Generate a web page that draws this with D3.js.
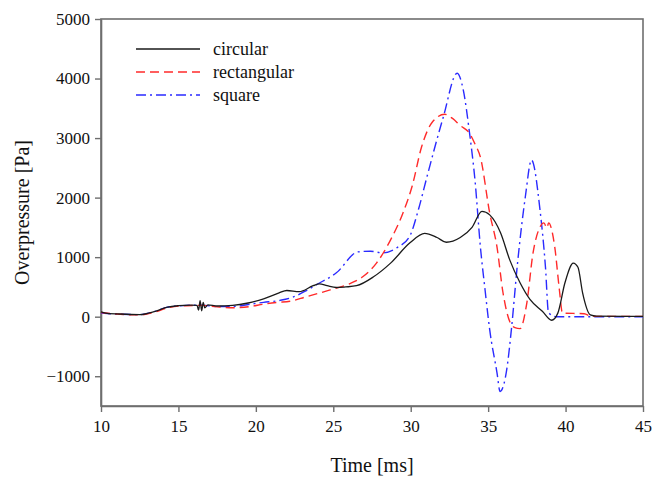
<!DOCTYPE html>
<html><head><meta charset="utf-8">
<script src="https://cdn.jsdelivr.net/npm/d3@7"></script>
<style>body{margin:0;background:#fff}svg{display:block} svg text{font-family:"Liberation Serif","Times New Roman",Times,"DejaVu Serif",serif !important;}</style>
</head><body>
<script>
const xTicks = [10, 15, 20, 25, 30, 35, 40, 45];
const yTicks = [-1000, 0, 1000, 2000, 3000, 4000, 5000];
const seriesNames = ["circular", "rectangular", "square"];

const circularT = [10, 10.5, 11.2, 12.5, 13.5, 14.3, 15, 15.8, 16.2, 16.3, 16.4, 16.5, 16.6, 16.7, 16.9, 17.5, 18.5, 19.5, 20.5, 21.5, 22.0, 22.8, 23.7, 24.1, 24.6, 25.2, 25.8, 26.5, 27.6, 28.7, 29.95, 30.9, 31.7, 32.3, 33.2, 33.96, 34.6, 35.1, 35.8, 36.4, 37.06, 37.7, 38.5, 39.1, 39.5, 39.96, 40.5, 40.8, 41.1, 41.6, 42, 45];
const circularP = [80, 50, 45, 35, 90, 160, 185, 195, 190, 110, 270, 100, 240, 150, 200, 180, 190, 230, 300, 400, 440, 420, 520, 550, 520, 490, 500, 520, 670, 900, 1240, 1400, 1330, 1250, 1330, 1500, 1770, 1710, 1410, 950, 570, 290, 90, -60, 60, 570, 900, 830, 400, 30, 10, 5];

const rectT = [10, 11, 12.5, 13.5, 14.3, 15.5, 16.5, 17.5, 18.5, 19.6, 20.5, 21.4, 22.2, 23.2, 24.8, 25.9, 26.9, 27.8, 28.7, 29.5, 30.1, 30.7, 31.4, 32.2, 32.7, 33.2, 33.8, 34.15, 34.5, 35.1, 35.57, 35.96, 36.4, 36.73, 37.06, 37.5, 37.9, 38.35, 38.6, 38.8, 38.9, 39.3, 39.6, 39.8, 41.2, 41.7, 45];
const rectP = [70, 45, 30, 80, 150, 185, 190, 165, 150, 170, 210, 240, 260, 330, 450, 536, 670, 904, 1290, 1742, 2200, 2850, 3270, 3400, 3330, 3210, 3080, 2900, 2680, 1742, 1172, 402, -84, -184, -200, 234, 1072, 1507, 1575, 1490, 1575, 1172, 452, 60, 50, 5, 5];

const squareT = [10, 11, 12.5, 13.5, 14.3, 15.5, 16.5, 17.5, 18.5, 19.6, 20.5, 21.56, 22.4, 23.2, 23.9, 25.2, 26.6, 27.4, 28.2, 29.1, 29.95, 30.5, 31.05, 32.1, 33.0, 33.4, 33.8, 34.15, 34.5, 34.8, 35.1, 35.57, 35.77, 36.2, 36.5, 36.9, 37.4, 37.8, 38.35, 38.7, 38.9, 39.4, 45];
const squareP = [60, 45, 35, 90, 160, 190, 195, 170, 170, 210, 240, 275, 330, 430, 536, 737, 1089, 1100, 1072, 1156, 1360, 1800, 2350, 3350, 4090, 3800, 3082, 2295, 1172, 452, -218, -938, -1256, -888, -218, 904, 2010, 2630, 1792, 838, 67, 0, 0];

const W = 659, H = 478;
const m = {left: 101, right: 16, top: 19, bottom: 72};
const svg = d3.select("body").append("svg").attr("width", W).attr("height", H);
const x = d3.scaleLinear().domain([10, 45]).range([m.left, W - m.right]);
const y = d3.scaleLinear().domain([-1500, 5000]).range([H - m.bottom, m.top]);
const font = "Liberation Serif, Times New Roman, Times, DejaVu Serif, serif";
const axisColor = "#6e6e6e";

svg.append("rect").attr("x", x(10)).attr("y", y(5000))
  .attr("width", x(45) - x(10)).attr("height", y(-1500) - y(5000))
  .attr("fill", "none").attr("stroke", axisColor).attr("stroke-width", 1.6);

const xAxis = svg.append("g").attr("transform", `translate(0,${y(-1500)})`)
  .call(d3.axisBottom(x).tickValues(xTicks).tickSize(6).tickSizeOuter(0).tickPadding(8));
const yAxis = svg.append("g").attr("transform", `translate(${x(10)},0)`)
  .call(d3.axisLeft(y).tickValues(yTicks).tickSize(6).tickSizeOuter(0).tickPadding(5).tickFormat(d3.format("d")));
[xAxis, yAxis].forEach(g => {
  g.attr("font-family", font).attr("font-size", 17);
  g.select(".domain").attr("stroke", axisColor).attr("stroke-width", 1.6);
  g.selectAll(".tick line").attr("stroke", axisColor).attr("stroke-width", 1.4);
  g.selectAll(".tick text").attr("fill", "#111");
});

const series = [
  {name: seriesNames[0], t: circularT, p: circularP, color: "#1a1a1a", dash: null, w: 1.3},
  {name: seriesNames[1], t: rectT, p: rectP, color: "#ff2a2a", dash: "9,5", w: 1.4},
  {name: seriesNames[2], t: squareT, p: squareP, color: "#2a2aff", dash: "10,4,2,4", w: 1.4}
];
const line = d3.line().x(d => x(d[0])).y(d => y(d[1])).curve(d3.curveMonotoneX);
const plotG = svg.append("g");
[series[2], series[1], series[0]].forEach(s => {
  const pts = s.t.map((t, i) => [t, s.p[i]]);
  plotG.append("path").datum(pts).attr("d", line)
    .attr("fill", "none").attr("stroke", s.color).attr("stroke-width", s.w)
    .attr("stroke-dasharray", s.dash);
});

const legY = [49, 72, 95];
series.forEach((s, i) => {
  svg.append("line").attr("x1", 136).attr("x2", 200).attr("y1", legY[i]).attr("y2", legY[i])
    .attr("stroke", s.color).attr("stroke-width", s.w).attr("stroke-dasharray", s.dash);
  svg.append("text").attr("x", 213).attr("y", legY[i] + 6).text(s.name)
    .attr("font-family", font).attr("font-size", 18).attr("fill", "#111");
});

svg.append("text").attr("x", (x(10) + x(45)) / 2).attr("y", 472).attr("text-anchor", "middle")
  .text("Time [ms]").attr("font-family", font).attr("font-size", 20).attr("fill", "#111");
svg.append("text").attr("transform", `translate(29,${(y(5000) + y(-1500)) / 2}) rotate(-90)`)
  .attr("text-anchor", "middle").text("Overpressure [Pa]")
  .attr("font-family", font).attr("font-size", 20).attr("fill", "#111");
</script>
</body></html>
